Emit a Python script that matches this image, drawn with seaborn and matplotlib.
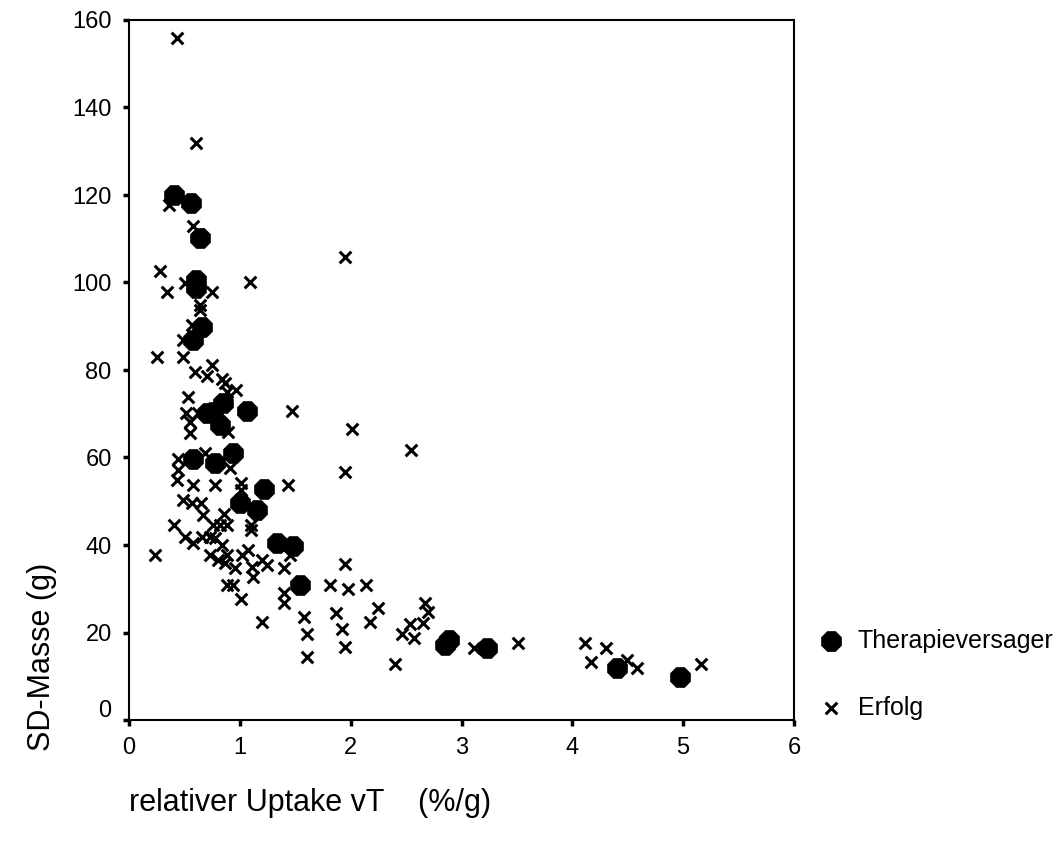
import matplotlib
matplotlib.use("Agg")
import matplotlib.pyplot as plt
import matplotlib.transforms as mtransforms
import seaborn as sns
import pandas as pd

# Therapieversager (filled circles)
tv_x = [0.41, 0.56, 0.64, 0.60, 0.60, 0.657, 0.58, 0.852, 0.76, 0.70, 1.069, 0.822,
        0.937, 0.58, 0.777, 1.222, 1.0, 1.154, 1.334, 1.484, 1.545, 2.885, 2.855,
        3.231, 4.405, 4.968]
tv_y = [120, 118.1, 110.1, 100.6, 98.7, 89.9, 86.9, 72.4, 70.5, 70.1, 70.7, 67.4,
        61, 59.6, 58.7, 52.8, 49.5, 48, 40.4, 39.8, 30.9, 18.3, 17.1,
        16.4, 11.8, 9.9]

# Erfolg (crosses)
er_x = [0.43, 0.60, 0.36, 0.575, 0.28, 0.506, 0.34, 0.747, 1.093, 1.95, 0.64, 0.64,
        0.566, 0.49, 0.256, 0.49, 0.596, 0.747, 0.70, 0.837, 0.867, 0.883, 0.967,
        0.536, 1.475, 0.515, 0.626,
        0.55, 0.55, 0.897, 0.445, 0.687, 0.445, 0.43, 0.575, 0.777, 0.912, 1.01,
        1.01, 1.434, 0.49, 0.566, 0.648, 0.67, 0.86, 0.407, 0.755, 0.82, 0.88,
        1.1, 1.1, 0.506, 0.58, 0.656, 0.73, 0.776, 0.837, 1.454, 0.235, 0.73,
        0.807, 0.867, 0.883, 0.958, 1.018, 1.078, 1.108, 1.117, 1.2, 1.244,
        1.394, 0.883, 0.942, 1.394, 1.394, 1.012, 1.2,
        2.012, 2.547, 1.951, 1.951, 1.816, 1.972, 2.141, 1.575, 1.605, 1.605,
        1.87, 1.921, 1.951, 2.246, 2.177, 2.397, 2.463, 2.538, 2.568, 2.653,
        2.674, 2.698, 3.11, 3.508,
        4.113, 4.3, 4.17, 4.496, 4.58, 5.158]
er_y = [155.8, 131.8, 117.7, 112.9, 102.7, 99.8, 97.8, 97.8, 100, 105.8, 94.9, 93.6,
        90.3, 86.9, 83, 83, 79.6, 81.1, 78.6, 77.9, 77, 75, 75.4,
        73.9, 70.7, 70.1, 70.1,
        68.2, 65.7, 65.9, 59.6, 61, 57.1, 54.9, 53.7, 53.7, 57.5, 54.1,
        52.6, 53.7, 50.4, 49.7, 49.7, 46.9, 47.2, 44.6, 44.6, 44.6, 44.6,
        44.6, 43.4, 41.9, 40.5, 41.9, 41.8, 41.6, 40, 37.7, 37.7, 37.7,
        36.6, 35.8, 37.7, 34.7, 37.7, 38.9, 35, 32.8, 36.6, 35.4,
        34.7, 30.9, 30.9, 29, 26.7, 27.6, 22.5,
        66.4, 61.7, 56.8, 35.7, 30.9, 29.9, 30.9, 23.5, 19.7, 14.5,
        24.5, 20.7, 16.6, 25.5, 22.3, 12.8, 19.7, 21.9, 18.7, 22.2,
        26.8, 24.8, 16.4, 17.5,
        17.5, 16.4, 13.3, 13.7, 11.8, 12.7]

x_ticks = [0, 1, 2, 3, 4, 5, 6]
y_ticks = [0, 20, 40, 60, 80, 100, 120, 140, 160]
labels = ["Therapieversager", "Erfolg"]
x_title = "relativer Uptake vT    (%/g)"
y_title = "SD-Masse (g)"

df_tv = pd.DataFrame({"x": tv_x, "y": tv_y})
df_er = pd.DataFrame({"x": er_x, "y": er_y})

sns.set_style("white")
plt.rcParams["font.family"] = ["Liberation Sans", "DejaVu Sans"]
plt.rcParams["text.color"] = "black"
plt.rcParams["xtick.color"] = "black"
plt.rcParams["ytick.color"] = "black"

fig = plt.figure(figsize=(10.58, 8.46), dpi=100)
ax = fig.add_axes([129 / 1058, 1 - 720 / 846, (794 - 129) / 1058, (720 - 20) / 846])

sns.scatterplot(data=df_er, x="x", y="y", marker="x", color="black", s=70,
                linewidth=2.2, ax=ax, label=labels[1], zorder=3)
sns.scatterplot(data=df_tv, x="x", y="y", marker="8", color="black", s=240,
                edgecolor="black", linewidth=0.5, ax=ax, label=labels[0], zorder=4)

ax.set_xlim(0, 6)
ax.set_ylim(0, 160)
ax.set_xticks(x_ticks)
ax.set_yticks(y_ticks)
ax.set_xticklabels([str(v) for v in x_ticks])
ax.set_yticklabels([str(v) for v in y_ticks])
ax.tick_params(axis="both", which="major", bottom=True, left=True,
               direction="out", length=4, width=2.5, colors="black",
               labelcolor="black", labelsize=17, pad=8)
ax.tick_params(axis="y", pad=8.5)
for sp in ax.spines.values():
    sp.set_visible(True)
    sp.set_color("black")
    sp.set_linewidth(1.5)

ax.set_xlabel("")
ax.set_ylabel("")
fig.text(129 / 1058, 1 - 803 / 846, x_title, fontsize=22, ha="left", va="center",
         color="black")
fig.text(42 / 1058, 1 - 657 / 846, y_title, fontsize=22, rotation=90,
         ha="center", va="center", color="black")

# shift the "0" y tick label upward as in the original
lab0 = ax.get_yticklabels()[0]
lab0.set_transform(lab0.get_transform() +
                   mtransforms.ScaledTranslation(0, 12 / 100, fig.dpi_scale_trans))

handles, labs = ax.get_legend_handles_labels()
order = [labs.index(labels[0]), labs.index(labels[1])]
ax.get_legend().remove()
leg = fig.legend([handles[i] for i in order], [labs[i] for i in order],
                 loc="upper left", bbox_to_anchor=(820 / 1058, 1 - 629 / 846),
                 frameon=False, fontsize=18, handlelength=0.9, handletextpad=0.6,
                 labelspacing=1.7, borderpad=0, borderaxespad=0)
for t in leg.get_texts():
    t.set_color("black")

fig.savefig("out.png", dpi=100)
